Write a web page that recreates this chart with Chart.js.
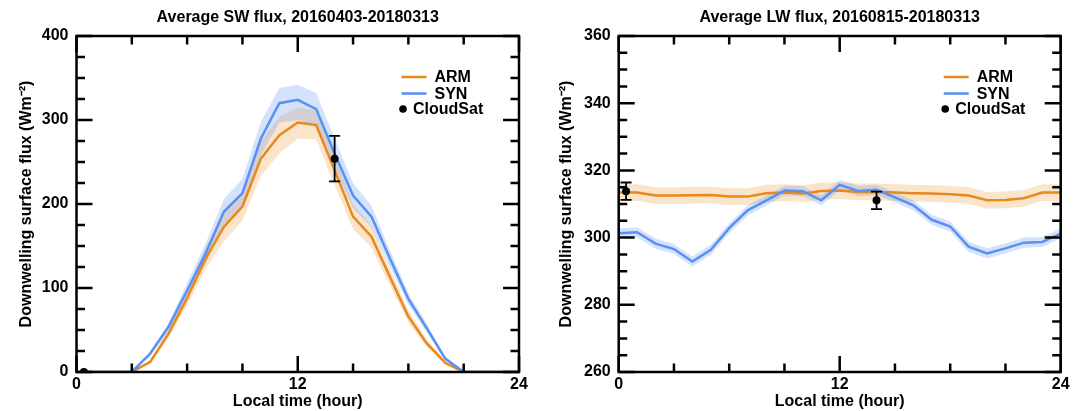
<!DOCTYPE html>
<html>
<head>
<meta charset="utf-8">
<script src="https://cdn.jsdelivr.net/npm/chart.js@4.4.1/dist/chart.umd.min.js"></script>
<style>
  html, body { margin: 0; padding: 0; background: #fff; }
  #wrap { position: relative; width: 1083px; height: 411px; overflow: hidden; }
  #sw { position: absolute; left: 0; top: 0; }
  #lw { position: absolute; left: 540px; top: 0; }
</style>
</head>
<body>
<div id="wrap">
  <canvas id="sw" width="540" height="411"></canvas>
  <canvas id="lw" width="543" height="411"></canvas>
</div>
<script>
// hourly local time
const hours = [0, 1, 2, 3, 4, 5, 6, 7, 8, 9, 10, 11, 12, 13, 14, 15, 16, 17, 18, 19, 20, 21, 22, 23, 24];

// shortwave (W m-2)
const swArm = [0, 0, 0, 0, 12, 46, 88, 135, 173, 197, 254, 282, 297, 294, 240, 185, 161, 113, 66, 34, 11, 0, 0, 0, 0];
const swArmLow = [0, 0, 0, 0, 10, 41, 79, 122, 156, 180, 233, 260, 278, 277, 222, 170, 148, 103, 59, 30, 9, 0, 0, 0, 0];
const swArmHigh = [0, 0, 0, 0, 15, 51, 97, 148, 190, 214, 275, 304, 315, 312, 258, 200, 174, 123, 73, 38, 13, 0, 0, 0, 0];
const swSyn = [0, 0, 0, 0, 22, 54, 97, 141, 191, 213, 278, 320, 324, 313, 260, 210, 185, 135, 87, 52, 16, 0, 0, 0, 0];
const swSynLow = [0, 0, 0, 0, 19, 49, 88, 129, 176, 196, 258, 297, 300, 292, 242, 195, 172, 125, 80, 47, 14, 0, 0, 0, 0];
const swSynHigh = [0, 0, 0, 0, 25, 59, 106, 153, 206, 230, 298, 338, 342, 332, 278, 225, 198, 145, 94, 57, 18, 0, 0, 0, 0];
const swSatHour = [0.4, 14.0];
const swSat = [0, 254];
const swSatErr = [0, 27];

// longwave (W m-2)
const lwArm = [313.4, 313.4, 312.5, 312.5, 312.6, 312.7, 312.2, 312.2, 313.2, 313.4, 313.1, 313.9, 314.0, 313.6, 313.6, 313.4, 313.2, 313.1, 312.9, 312.5, 311.1, 311.2, 311.7, 313.4, 313.4];
const lwArmLow = [310.9, 310.9, 310.0, 310.0, 310.1, 310.2, 309.7, 309.7, 310.7, 310.9, 310.6, 311.4, 311.5, 311.1, 311.1, 310.9, 310.7, 310.6, 310.4, 310.0, 308.6, 308.7, 309.2, 310.9, 310.9];
const lwArmHigh = [315.9, 315.9, 315.0, 315.0, 315.1, 315.2, 314.7, 314.7, 315.7, 315.9, 315.6, 316.4, 316.5, 316.1, 316.1, 315.9, 315.7, 315.6, 315.4, 315.0, 313.6, 313.7, 314.2, 315.9, 315.9];
const lwSyn = [301.3, 301.6, 298.2, 296.6, 292.9, 296.4, 302.8, 308.1, 311.0, 314.0, 313.8, 311.1, 315.7, 313.9, 314.2, 312.0, 309.6, 305.3, 303.3, 297.3, 295.3, 296.8, 298.5, 298.7, 301.2];
const lwSynLow = [299.8, 300.1, 296.7, 295.1, 291.4, 294.9, 301.3, 306.6, 309.5, 312.5, 312.3, 309.6, 314.2, 312.4, 312.7, 310.5, 308.1, 303.8, 301.8, 295.8, 293.8, 295.3, 297.0, 297.2, 299.7];
const lwSynHigh = [302.8, 303.1, 299.7, 298.1, 294.4, 297.9, 304.3, 309.6, 312.5, 315.5, 315.3, 312.6, 317.2, 315.4, 315.7, 313.5, 311.1, 306.8, 304.8, 298.8, 296.8, 298.3, 300.0, 300.2, 302.7];
const lwSatHour = [0.4, 14.0];
const lwSat = [313.8, 311.1];
const lwSatErr = [2.6, 2.6];

// axis ticks
const xTicks = [0, 3, 6, 9, 12, 15, 18, 21, 24];
const xMajor = [0, 12, 24];
const swYTicks = [0, 25, 50, 75, 100, 125, 150, 175, 200, 225, 250, 275, 300, 325, 350, 375, 400];
const swYMajor = [0, 100, 200, 300, 400];
const lwYTicks = [260, 265, 270, 275, 280, 285, 290, 295, 300, 305, 310, 315, 320, 325, 330, 335, 340, 345, 350, 355, 360];
const lwYMajor = [260, 280, 300, 320, 340, 360];

const ORANGE = "#e8891e";
const BLUE = "#5b8ff2";
const ORANGE_BAND = "rgba(240, 160, 60, 0.27)";
const BLUE_BAND = "rgba(90, 145, 245, 0.26)";
const FONT = "'Liberation Sans', Arial, sans-serif";

Chart.defaults.font.family = FONT;
Chart.defaults.font.size = 16;
Chart.defaults.font.weight = "bold";
Chart.defaults.color = "#000";

function pts(xs, ys) {
  return xs.map((x, i) => ({ x: x, y: ys[i] }));
}

// box, inward ticks on all four sides
const framePlugin = {
  id: "frame",
  afterDraw(chart, args, o) {
    const { ctx, chartArea: a } = chart;
    const x = chart.scales.x;
    const y = chart.scales.y;
    ctx.save();
    ctx.strokeStyle = "#000";
    ctx.lineWidth = 2.5;
    ctx.beginPath();
    o.xTicks.forEach((v) => {
      const px = x.getPixelForValue(v);
      const len = o.xMajor.includes(v) ? 16 : 8.5;
      ctx.moveTo(px, a.bottom);
      ctx.lineTo(px, a.bottom - len);
      ctx.moveTo(px, a.top);
      ctx.lineTo(px, a.top + len);
    });
    o.yTicks.forEach((v) => {
      const py = y.getPixelForValue(v);
      const len = o.yMajor.includes(v) ? 16 : 8.5;
      ctx.moveTo(a.left, py);
      ctx.lineTo(a.left + len, py);
      ctx.moveTo(a.right, py);
      ctx.lineTo(a.right - len, py);
    });
    ctx.stroke();
    ctx.strokeRect(a.left, a.top, a.right - a.left, a.bottom - a.top);

    // title centred over the box
    ctx.fillStyle = "#000";
    ctx.font = "bold 16px " + FONT;
    ctx.textAlign = "center";
    ctx.textBaseline = "middle";
    ctx.fillText(o.title, (a.left + a.right) / 2, 17.5);
    ctx.restore();
  },
};

// CloudSat error bars
const errorBarPlugin = {
  id: "errbars",
  afterDatasetsDraw(chart, args, o) {
    const { ctx } = chart;
    const x = chart.scales.x;
    const y = chart.scales.y;
    ctx.save();
    ctx.strokeStyle = "#000";
    ctx.lineWidth = 1.8;
    ctx.beginPath();
    o.hours.forEach((h, i) => {
      if (!o.err[i]) return;
      const px = x.getPixelForValue(h);
      const top = y.getPixelForValue(o.values[i] + o.err[i]);
      const bot = y.getPixelForValue(o.values[i] - o.err[i]);
      ctx.moveTo(px, top);
      ctx.lineTo(px, bot);
      ctx.moveTo(px - 5.5, top);
      ctx.lineTo(px + 5.5, top);
      ctx.moveTo(px - 5.5, bot);
      ctx.lineTo(px + 5.5, bot);
    });
    ctx.stroke();
    ctx.restore();
  },
};

// legend inside the top right of the box
const legendPlugin = {
  id: "boxLegend",
  afterDraw(chart) {
    const { ctx, chartArea: a } = chart;
    const lx = a.left + 325;
    ctx.save();
    ctx.font = "bold 16px " + FONT;
    ctx.textBaseline = "middle";
    ctx.fillStyle = "#000";
    ctx.lineWidth = 2.5;
    [["ARM", ORANGE, 41], ["SYN", BLUE, 57.5]].forEach(([label, col, dy]) => {
      ctx.strokeStyle = col;
      ctx.beginPath();
      ctx.moveTo(lx, a.top + dy);
      ctx.lineTo(lx + 25, a.top + dy);
      ctx.stroke();
      ctx.fillText(label, lx + 33, a.top + dy + 1);
    });
    ctx.beginPath();
    ctx.arc(lx + 1.5, a.top + 73, 3.8, 0, Math.PI * 2);
    ctx.fill();
    ctx.fillText("CloudSat", lx + 11.5, a.top + 74);
    ctx.restore();
  },
};

function makeChart(id, cfg) {
  const ctx = document.getElementById(id).getContext("2d");
  return new Chart(ctx, {
    type: "line",
    data: {
      datasets: [
        { data: pts(hours, cfg.armLow), borderWidth: 0, pointRadius: 0, fill: false, order: 9 },
        { data: pts(hours, cfg.armHigh), borderWidth: 0, pointRadius: 0, fill: "-1", backgroundColor: ORANGE_BAND, order: 8 },
        { data: pts(hours, cfg.synLow), borderWidth: 0, pointRadius: 0, fill: false, order: 7 },
        { data: pts(hours, cfg.synHigh), borderWidth: 0, pointRadius: 0, fill: "-1", backgroundColor: BLUE_BAND, order: 6 },
        { label: "ARM", data: pts(hours, cfg.arm), borderColor: ORANGE, borderWidth: 2.5, pointRadius: 0, fill: false, order: 3 },
        { label: "SYN", data: pts(hours, cfg.syn), borderColor: BLUE, borderWidth: 2.5, pointRadius: 0, fill: false, order: 2 },
        {
          label: "CloudSat",
          data: pts(cfg.satHour, cfg.sat),
          showLine: false,
          pointRadius: 4,
          pointBackgroundColor: "#000",
          pointBorderColor: "#000",
          pointBorderWidth: 0,
          clip: 0,
          order: 1,
        },
      ],
    },
    options: {
      responsive: false,
      animation: false,
      events: [],
      layout: { padding: { left: 0, right: cfg.padRight, top: 36, bottom: 0 } },
      scales: {
        x: {
          type: "linear",
          min: 0,
          max: 24,
          ticks: { stepSize: 12, padding: 3, maxRotation: 0, color: "#000" },
          grid: { display: false, drawTicks: false },
          border: { display: false },
          title: { display: true, text: "Local time (hour)", color: "#000", padding: { top: 0, bottom: 0 } },
          afterFit: (s) => { s.height = 39; },
        },
        y: {
          min: cfg.yMin,
          max: cfg.yMax,
          ticks: { stepSize: cfg.yStep, padding: 8, color: "#000" },
          grid: { display: false, drawTicks: false },
          border: { display: false },
          title: { display: true, text: "Downwelling surface flux (Wm⁻²)", color: "#000", padding: { top: 17.4, bottom: 0 } },
          afterFit: (s) => { s.width = cfg.yWidth; },
        },
      },
      plugins: {
        legend: { display: false },
        tooltip: { enabled: false },
        title: { display: false },
        frame: { xTicks: xTicks, xMajor: xMajor, yTicks: cfg.yTicks, yMajor: cfg.yMajor, title: cfg.title },
        errbars: { hours: cfg.satHour, values: cfg.sat, err: cfg.satErr },
      },
    },
    plugins: [errorBarPlugin, framePlugin, legendPlugin],
  });
}

makeChart("sw", {
  title: "Average SW flux, 20160403-20180313",
  arm: swArm, armLow: swArmLow, armHigh: swArmHigh,
  syn: swSyn, synLow: swSynLow, synHigh: swSynHigh,
  satHour: swSatHour, sat: swSat, satErr: swSatErr,
  yMin: 0, yMax: 400, yStep: 100, yTicks: swYTicks, yMajor: swYMajor,
  yWidth: 76.5, padRight: 21,
});

makeChart("lw", {
  title: "Average LW flux, 20160815-20180313",
  arm: lwArm, armLow: lwArmLow, armHigh: lwArmHigh,
  syn: lwSyn, synLow: lwSynLow, synHigh: lwSynHigh,
  satHour: lwSatHour, sat: lwSat, satErr: lwSatErr,
  yMin: 260, yMax: 360, yStep: 20, yTicks: lwYTicks, yMajor: lwYMajor,
  yWidth: 78.7, padRight: 22.3,
});
</script>
</body>
</html>
